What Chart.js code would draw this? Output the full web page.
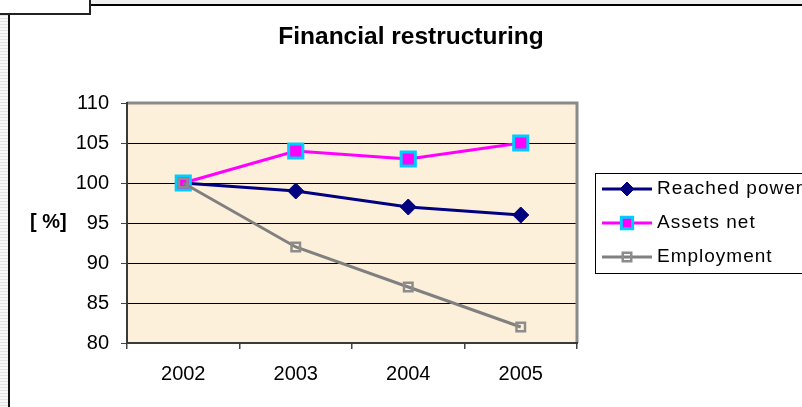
<!DOCTYPE html>
<html>
<head>
<meta charset="utf-8">
<script src="https://cdn.jsdelivr.net/npm/chart.js@4/dist/chart.umd.min.js"></script>
<style>
  html, body { margin: 0; padding: 0; background: #ffffff; }
  body { width: 802px; height: 407px; position: relative; overflow: hidden; font-family: "Liberation Sans", Arial, sans-serif; }
  #topStrip { position: absolute; left: 0; top: 0; width: 802px; height: 5px; background: #efefef; }
  #topLine { position: absolute; left: 90px; top: 4px; width: 712px; height: 2px; background: #000; }
  #leftStripe { position: absolute; left: 0; top: 15px; width: 8px; height: 392px;
    background: repeating-linear-gradient(to bottom, #e2e2e2 0px, #e2e2e2 1px, #f7f7f7 1px, #f7f7f7 3px); }
  #leftLine { position: absolute; left: 8px; top: 15px; width: 2px; height: 392px; background: #111; }
  #box { position: absolute; left: 0; top: 0; width: 89px; height: 13px; background: #fff;
    border-right: 2px solid #222; border-bottom: 2px solid #222; }
  canvas { position: absolute; left: 0; top: 0; }
</style>
</head>
<body>
<div id="topStrip"></div>
<div id="topLine"></div>
<div id="leftStripe"></div>
<div id="leftLine"></div>
<div id="box"></div>
<canvas id="c" width="802" height="407"></canvas>
<script>
const chartTitle = "Financial restructuring";
const yAxisLabel = "[ %]";
const categories = ["2002", "2003", "2004", "2005"];
const reachedPower = [100, 99, 97, 96];
const assetsNet = [100, 104, 103, 105];
const employment = [100, 92, 87, 82];
const seriesNames = ["Reached power", "Assets net", "Employment"];
const yMin = 80, yMax = 110, yStep = 5;

const FONT = '"Liberation Sans", Arial, sans-serif';

const decorPlugin = {
  id: 'decor',
  beforeDatasetsDraw(chart) {
    const { ctx, chartArea: a } = chart;
    ctx.save();
    ctx.strokeStyle = '#8a8a8a';
    ctx.lineWidth = 3;
    ctx.beginPath();
    ctx.moveTo(a.left, a.top);
    ctx.lineTo(a.right, a.top);
    ctx.lineTo(a.right, a.bottom);
    ctx.stroke();
    ctx.strokeStyle = '#3a3a3a';
    ctx.lineWidth = 2;
    ctx.beginPath();
    ctx.moveTo(a.left, a.top - 1);
    ctx.lineTo(a.left, a.bottom);
    ctx.lineTo(a.right + 1, a.bottom);
    ctx.stroke();
    ctx.restore();
  },
  beforeDraw(chart) {
    const { ctx, chartArea: a } = chart;
    ctx.save();
    ctx.fillStyle = '#fcf0da';
    ctx.fillRect(a.left, a.top, a.right - a.left, a.bottom - a.top);
    ctx.restore();
  },
  afterDraw(chart) {
    const { ctx } = chart;
    ctx.save();
    ctx.fillStyle = '#000';
    ctx.font = 'bold 24.5px ' + FONT;
    ctx.textAlign = 'center';
    ctx.textBaseline = 'middle';
    ctx.fillText(chartTitle, 411, 37);
    ctx.font = 'bold 20px ' + FONT;
    ctx.textAlign = 'left';
    ctx.fillText(yAxisLabel, 30, 222);
    const lx = 595, ly = 173, lh = 100;
    ctx.fillStyle = '#fff';
    ctx.fillRect(lx, ly, 802 - lx + 5, lh);
    ctx.strokeStyle = '#000';
    ctx.lineWidth = 1;
    ctx.strokeRect(lx + 0.5, ly + 0.5, 802 - lx + 5, lh);
    const rows = [189, 223, 257];
    chart.data.datasets.forEach((ds, i) => {
      const y = rows[i];
      ctx.strokeStyle = ds.borderColor;
      ctx.lineWidth = ds.borderWidth;
      ctx.beginPath();
      ctx.moveTo(602, y);
      ctx.lineTo(652, y);
      ctx.stroke();
      ctx.fillStyle = ds.pointBackgroundColor;
      ctx.strokeStyle = ds.pointBorderColor;
      ctx.lineWidth = ds.pointBorderWidth;
      Chart.helpers.drawPoint(ctx, {
        pointStyle: ds.pointStyle,
        radius: ds.legendRadius,
        rotation: 0,
        borderWidth: ds.pointBorderWidth
      }, 627, y);
      ctx.fillStyle = '#000';
      ctx.font = '19px ' + FONT;
      ctx.letterSpacing = '1px';
      ctx.textAlign = 'left';
      ctx.textBaseline = 'middle';
      ctx.fillText(ds.label, 657, y);
      ctx.letterSpacing = '0px';
    });
    ctx.restore();
  }
};

new Chart(document.getElementById('c'), {
  type: 'line',
  data: {
    labels: categories,
    datasets: [
      {
        label: seriesNames[0],
        data: reachedPower,
        borderColor: '#000080',
        borderWidth: 3,
        pointStyle: 'rectRot',
        pointRadius: 8,
        legendRadius: 7,
        pointBackgroundColor: '#000080',
        pointBorderColor: '#000080',
        pointBorderWidth: 1,
        order: 3
      },
      {
        label: seriesNames[1],
        data: assetsNet,
        borderColor: '#ff00ff',
        borderWidth: 3,
        pointStyle: 'rect',
        pointRadius: 10,
        legendRadius: 8,
        pointBackgroundColor: '#ff00ff',
        pointBorderColor: '#00ccff',
        pointBorderWidth: 3,
        order: 2
      },
      {
        label: seriesNames[2],
        data: employment,
        borderColor: '#808080',
        borderWidth: 3,
        pointStyle: 'rect',
        pointRadius: 6,
        legendRadius: 6,
        pointBackgroundColor: 'rgba(0,0,0,0)',
        pointBorderColor: '#8c8c8c',
        pointBorderWidth: 2.5,
        order: 1
      }
    ]
  },
  options: {
    responsive: false,
    animation: false,
    devicePixelRatio: 1,
    layout: { padding: { top: 103, right: 225, bottom: 24, left: 0 } },
    plugins: {
      legend: { display: false },
      title: { display: false },
      tooltip: { enabled: false }
    },
    elements: { line: { tension: 0 } },
    scales: {
      x: {
        type: 'category',
        offset: true,
        afterFit(scale) { scale.height = 40; },
        grid: { drawOnChartArea: false, drawTicks: true, tickLength: 6, tickColor: '#444', offset: true, lineWidth: 1.5 },
        border: { display: false },
        ticks: { color: '#000', font: { family: FONT, size: 20 }, padding: 13, maxRotation: 0 }
      },
      y: {
        min: yMin,
        max: yMax,
        afterFit(scale) { scale.width = 127; },
        grid: {
          drawTicks: true,
          tickLength: 6,
          tickColor: '#444',
          lineWidth: 1,
          color: (c) => (c.tick && (c.tick.value === yMin || c.tick.value === yMax)) ? 'rgba(0,0,0,0)' : '#000'
        },
        border: { display: false },
        ticks: { stepSize: yStep, color: '#000', font: { family: FONT, size: 20 }, padding: 12 }
      }
    }
  },
  plugins: [decorPlugin]
});
</script>
</body>
</html>
